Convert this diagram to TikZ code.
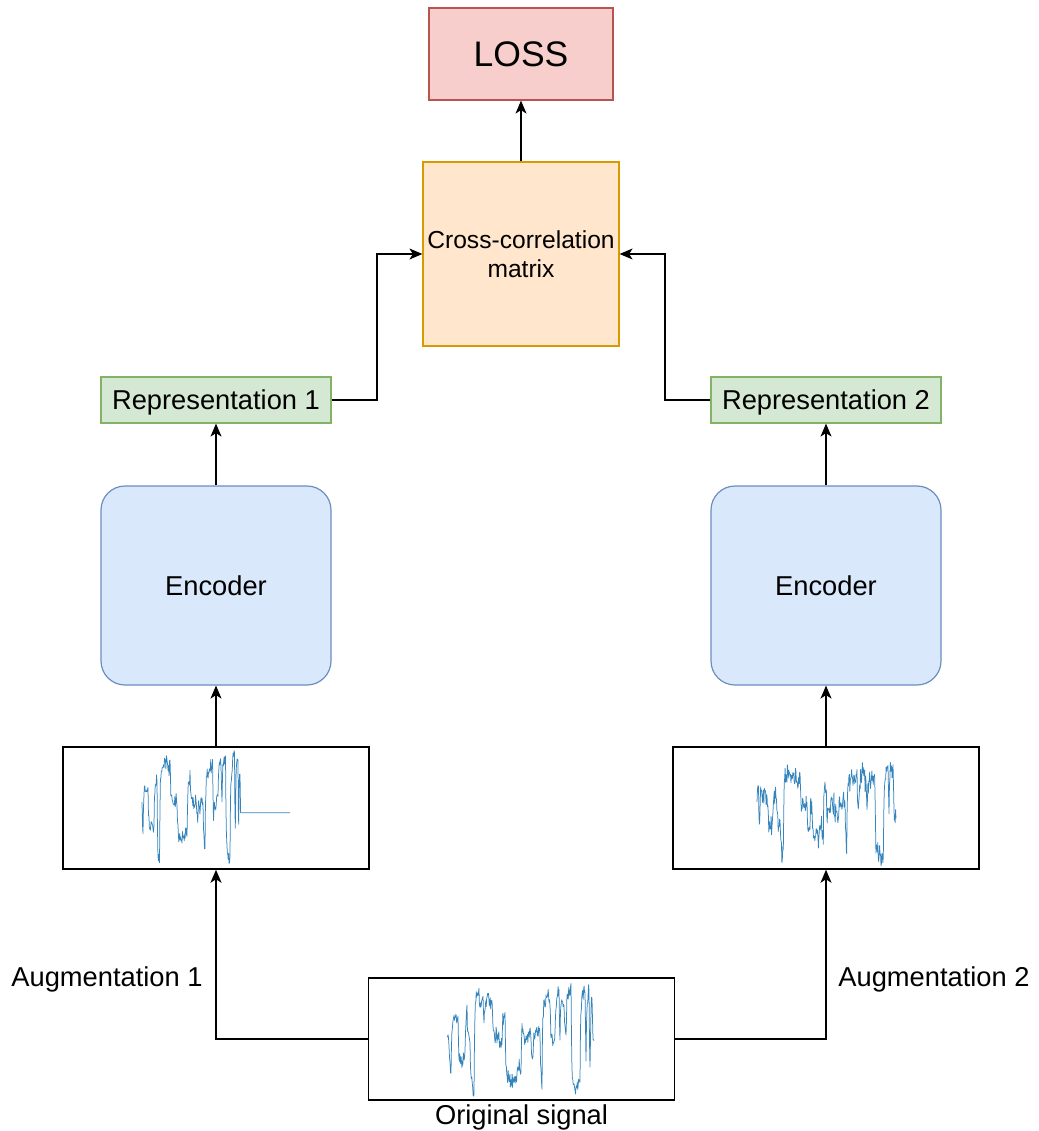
\documentclass[tikz,border=0pt]{standalone}
\usepackage{fontspec}
\setmainfont{Liberation Sans}
\usetikzlibrary{arrows.meta}

\definecolor{lossfill}{HTML}{F8CECC}
\definecolor{lossline}{HTML}{B85450}
\definecolor{ccfill}{HTML}{FFE6CC}
\definecolor{ccline}{HTML}{D79B00}
\definecolor{repfill}{HTML}{D5E8D4}
\definecolor{repline}{HTML}{82B366}
\definecolor{encfill}{HTML}{DAE8FC}
\definecolor{encline}{HTML}{6C8EBF}
\definecolor{sigblue}{HTML}{1F77B4}

% Builds a noisy regime-switching trace in \sgpath.
% #1,#2: start point; #3: drift noise; #4: jitter; #5: list of x-end/level pairs
\newcommand\sigwave[5]{%
  \xdef\sgx{#1}\xdef\sgy{#2}\xdef\sgpath{(#1,#2)}%
  \foreach \xe/\lv in {#5}{%
    \pgfmathtruncatemacro\nst{max(1,round((\xe-\sgx)/0.45))}%
    \pgfmathsetmacro\dxs{(\xe-\sgx)/\nst}%
    \foreach \k in {1,...,\nst}{%
      \pgfmathsetmacro\nx{\sgx+\dxs}%
      \pgfmathsetmacro\ny{\sgy+0.5*(\lv-\sgy)+#3*rand}%
      \pgfmathsetmacro\py{\ny+#4*rand}%
      \xdef\sgx{\nx}\xdef\sgy{\ny}%
      \xdef\sgpath{\sgpath -- (\sgx,\py)}%
    }%
  }%
}

\tikzset{
  txt/.style={font=\fontsize{27.3}{32}\selectfont},
  box/.style={draw, line width=1.2pt, inner sep=0pt, anchor=center},
  lossbox/.style={box, fill=lossfill, draw=lossline, minimum width=184, minimum height=92,
    font=\fontsize{35.5}{40}\selectfont},
  ccbox/.style={box, fill=ccfill, draw=ccline, minimum width=196, minimum height=184,
    align=center, font=\fontsize{24.6}{29}\selectfont},
  repbox/.style={box, fill=repfill, draw=repline, minimum width=230, minimum height=46,
    txt, text depth=1},
  encbox/.style={box, fill=encfill, draw=encline, minimum width=230, minimum height=199,
    rounded corners=24, txt},
  sigbox/.style={box, draw=black, line width=1.5pt, minimum width=306, minimum height=122},
  arr/.style={line width=1.3pt, -{Stealth[length=13,width=11,inset=3.5]}},
  sig/.style={draw=sigblue, line width=0.75pt, line join=round, opacity=0.9},
}

\begin{document}
\begin{tikzpicture}[x=1pt, y=-1pt]
\useasboundingbox (0,0) rectangle (1038,1131);

% boxes
\node[lossbox] (loss) at (521,54) {LOSS};
\node[ccbox] (cc) at (521,254) {Cross-correlation\\matrix};
\node[repbox] (rep1) at (216,400) {Representation 1};
\node[repbox] (rep2) at (826,400) {Representation 2};
\node[encbox] (enc1) at (216,585.5) {Encoder};
\node[encbox] (enc2) at (826,585.5) {Encoder};
\node[sigbox] (sig1) at (216,808) {};
\node[sigbox] (sig2) at (826,808) {};
\node[sigbox] (orig) at (521.5,1039) {};

% labels
\node[txt] (lbla) at (107,979) {Augmentation 1};
\node[txt] (lblb) at (934,979) {Augmentation 2};
\node[txt, anchor=north] (lblo) at (521.5,1101) {Original signal};

% bend points of the connectors into the matrix
\coordinate (bendl) at (377,254);
\coordinate (bendr) at (665,254);

% connectors
\draw[arr] (orig.west) -| (sig1.south);
\draw[arr] (orig.east) -| (sig2.south);
\draw[arr] (sig1.north) -- (enc1.south);
\draw[arr] (sig2.north) -- (enc2.south);
\draw[arr] (enc1.north) -- (rep1.south);
\draw[arr] (enc2.north) -- (rep2.south);
\draw[arr] (rep1.east) -| (bendl) -- (cc.west);
\draw[arr] (rep2.west) -| (bendr) -- (cc.east);
\draw[arr] (cc.north) -- (loss.south);

% signal traces
\pgfmathsetseed{7}
\sigwave{447}{1037}{6}{5}{449/1036, 451/1070, 458/1018, 465/1060, 467/1006, 470/1045,
  474/1090, 483/998, 484/1030, 492/997, 502/1037, 505/1018, 517/1076, 521/1070,
  522/1010, 531/1036, 533/1063, 540/1033, 542/1088, 550/998, 555/1042, 559/994,
  560/1050, 564/996, 566/1037, 571/993, 580/1086, 585/990, 586/1080, 589/990,
  590/1083, 592/992, 594/1043}
\edef\tmp{\noexpand\draw[sig] \sgpath;}\tmp

\pgfmathsetseed{11}
\sigwave{142}{802}{6}{5}{143/840, 148/785, 154/825, 157/773, 159.5/862, 170/763,
  177/803, 187/835, 190/775, 196.5/802, 197.7/830, 203/800, 205/857, 212.5/770,
  213.5/840, 218/803, 221/760, 222/805, 225.5/760, 230/858, 234.5/756, 235.3/850,
  238/757, 238.7/853, 240/757}
\edef\tmp{\noexpand\draw[sig] \sgpath -- (240.6,812.7) -- (290,812.7);}\tmp

\pgfmathsetseed{23}
\sigwave{757}{802}{8}{8}{758.5/800, 759.3/838, 767/795, 772/823, 776/800, 780/820,
  783.3/855, 800/775, 807/812, 810/835, 811.7/797, 823.3/833, 825/783, 837/807,
  838.3/833, 845/802, 846.7/847, 857/778, 858.3/820, 866/778, 867/818, 875/778,
  883.3/853, 888/768, 889/830, 893/768, 896/818}
\edef\tmp{\noexpand\draw[sig] \sgpath;}\tmp

\end{tikzpicture}
\end{document}
